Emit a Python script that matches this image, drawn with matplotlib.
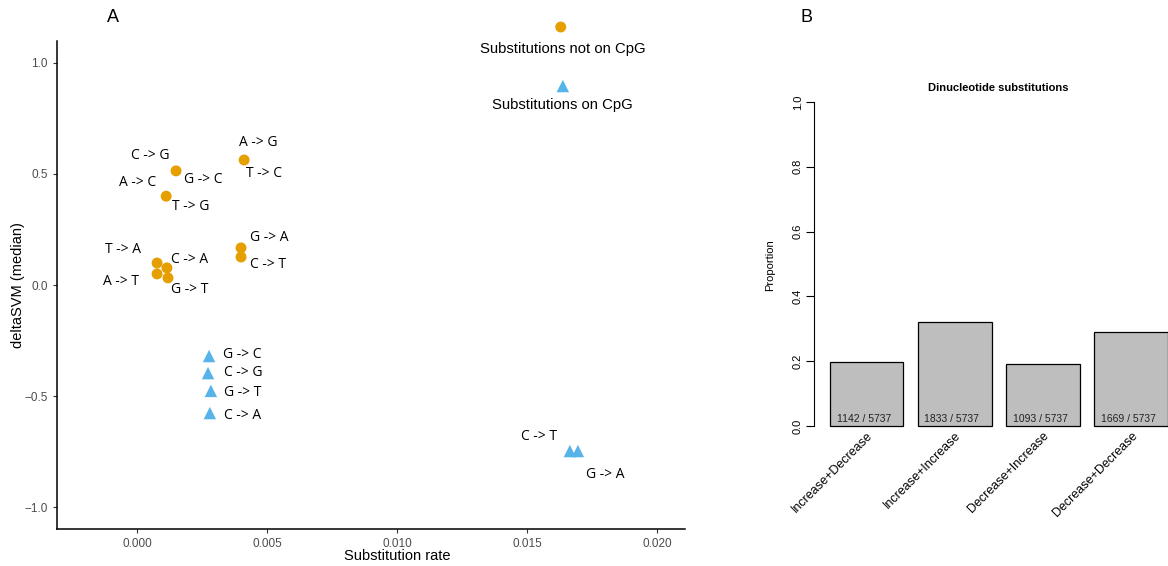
import numpy as np
import matplotlib
matplotlib.use('Agg')
import matplotlib.pyplot as plt

# Panel A: substitution rate vs deltaSVM (median)
# substitutions not on CpG (orange circles)
nc_rate = [0.00150, 0.00112, 0.00412, 0.00400, 0.00400, 0.00077, 0.00077, 0.00115, 0.00119]
nc_dsvm = [0.514, 0.400, 0.563, 0.167, 0.126, 0.099, 0.050, 0.077, 0.032]
nc_labels = [
    (0, 'C -> G'), (0, 'G -> C'),
    (1, 'A -> C'), (1, 'T -> G'),
    (2, 'A -> G'), (2, 'T -> C'),
    (3, 'G -> A'), (4, 'C -> T'),
    (5, 'T -> A'), (6, 'A -> T'),
    (7, 'C -> A'), (8, 'G -> T'),
]
# substitutions on CpG (blue triangles)
cpg_rate = [0.00277, 0.00273, 0.00284, 0.00280, 0.01665, 0.01696]
cpg_dsvm = [-0.320, -0.397, -0.477, -0.577, -0.748, -0.748]
cpg_labels = [(0, 'G -> C'), (1, 'C -> G'), (2, 'G -> T'), (3, 'C -> A'), (4, 'C -> T'), (5, 'G -> A')]

# Panel B: dinucleotide substitutions
categorias = ['Increase+Decrease', 'Increase+Increase', 'Decrease+Increase', 'Decrease+Decrease']
cuentas = [1142, 1833, 1093, 1669]
total = 5737

# label offsets in pixels (dx, dy) relative to the point
nc_off = [(-26, 15), (27, -9), (-29, 14), (25, -10), (14, 18), (20, -13),
          (28, 10), (27, -7), (-34, 14), (-36, -8), (23, 8), (22, -12)]
cpg_off = [(33, 2), (35, 1), (32, -2), (33, -2), (-31, 15), (27, -23)]

naranja = '#E69F00'
azul = '#56B4E9'
gris_txt = '#4D4D4D'

fig = plt.figure(figsize=(11.68, 5.66), dpi=100)

# ---------------- Panel A ----------------
ax1 = fig.add_axes([57/1168, 1-529/566, (685-57)/1168, (529-41)/566])
ax1.scatter(nc_rate, nc_dsvm, s=62, marker='o', color=naranja, edgecolors='none', zorder=3)
ax1.scatter(cpg_rate, cpg_dsvm, s=80, marker='^', color=azul, edgecolors='none', zorder=3)

for (i, txt), (dx, dy) in zip(nc_labels, nc_off):
    ax1.annotate(txt, (nc_rate[i], nc_dsvm[i]), xytext=(dx, dy), textcoords='offset pixels',
                 ha='center', va='center', fontsize=10, family='Open Sans', color='black')
for (i, txt), (dx, dy) in zip(cpg_labels, cpg_off):
    ax1.annotate(txt, (cpg_rate[i], cpg_dsvm[i]), xytext=(dx, dy), textcoords='offset pixels',
                 ha='center', va='center', fontsize=10, family='Open Sans', color='black')

# leyenda dibujada como texto
ax1.scatter([0.0163], [1.162], s=62, marker='o', color=naranja, edgecolors='none', clip_on=False)
ax1.annotate('Substitutions not on CpG', (0.0163, 1.162), xytext=(2, -22), textcoords='offset pixels',
             ha='center', va='center', fontsize=10.7, family='Liberation Sans', annotation_clip=False)
ax1.scatter([0.01638], [0.896], s=80, marker='^', color=azul, edgecolors='none', clip_on=False)
ax1.annotate('Substitutions on CpG', (0.01638, 0.896), xytext=(0, -19), textcoords='offset pixels',
             ha='center', va='center', fontsize=10.7, family='Liberation Sans', annotation_clip=False)

ax1.set_xlim(-0.00308, 0.02108)
ax1.set_ylim(-1.099, 1.099)
ax1.set_xticks([0.0, 0.005, 0.010, 0.015, 0.020])
ax1.set_xticklabels(['0.000', '0.005', '0.010', '0.015', '0.020'])
ax1.set_yticks([-1.0, -0.5, 0.0, 0.5, 1.0])
ax1.set_yticklabels(['\u22121.0', '\u22120.5', '0.0', '0.5', '1.0'])
ax1.tick_params(colors='#333333', labelcolor=gris_txt, labelsize=8.5, length=3, width=0.8)
for lab in ax1.get_xticklabels() + ax1.get_yticklabels():
    lab.set_family('Liberation Sans')
ax1.spines['top'].set_visible(False)
ax1.spines['right'].set_visible(False)
ax1.spines['left'].set_linewidth(1.1)
ax1.spines['bottom'].set_linewidth(1.1)
ax1.set_xlabel('Substitution rate', fontsize=10.5, family='Liberation Sans', va='center')
ax1.set_ylabel('deltaSVM (median)', fontsize=10.5, family='Liberation Sans', va='center')
ax1.xaxis.set_label_coords((397-57)/628, -(556-529)/488)
ax1.yaxis.set_label_coords(-(57-18)/628, 0.5)

fig.text(113/1168, 1-18/566, 'A', fontsize=13, family='Liberation Sans', ha='center', va='center')
fig.text(806/1168, 1-18/566, 'B', fontsize=13, family='Liberation Sans', ha='center', va='center')

# ---------------- Panel B ----------------
ax2 = fig.add_axes([814/1168, 1-439/566, 367.5/1168, 350/566])
proporcion = np.array(cuentas) / total
izq = 0.2 + np.arange(len(cuentas)) * 1.2
centros = izq + 0.5
ax2.bar(centros, proporcion, width=1.0, color='#BEBEBE', edgecolor='black', linewidth=0.9)
for c, n in zip(centros, cuentas):
    ax2.text(c - 0.04, 0.006, '%d / %d' % (n, total), ha='center', va='bottom',
             fontsize=7.5, family='Liberation Sans', color='#222222')

ax2.set_xlim(-0.016, 4.984)
ax2.set_ylim(-0.04, 1.04)
for s in ['top', 'right', 'bottom']:
    ax2.spines[s].set_visible(False)
ax2.spines['left'].set_bounds(0, 1)
ax2.spines['left'].set_linewidth(0.8)
ax2.set_yticks([0.0, 0.2, 0.4, 0.6, 0.8, 1.0])
ax2.set_yticklabels(['0.0', '0.2', '0.4', '0.6', '0.8', '1.0'], rotation=90, va='center',
                    family='Liberation Sans', fontsize=8)
ax2.tick_params(axis='y', length=6, width=0.8, pad=2)
ax2.set_xticks(centros)
ax2.set_xticklabels(categorias, rotation=45, ha='right', va='top', rotation_mode='anchor',
                    family='Liberation Sans', fontsize=9)
ax2.tick_params(axis='x', length=0, pad=-7)
ax2.set_ylabel('Proportion', family='Liberation Sans', fontsize=8, va='center')
ax2.yaxis.set_label_coords(-(814-770)/367.5, (439-265)/350)
ax2.text(2.484, 1.04 + 0.003, 'Dinucleotide substitutions', ha='center', va='center',
         fontweight='bold', family='Liberation Sans', fontsize=8)

plt.savefig('out.png', dpi=100)
plt.close()
